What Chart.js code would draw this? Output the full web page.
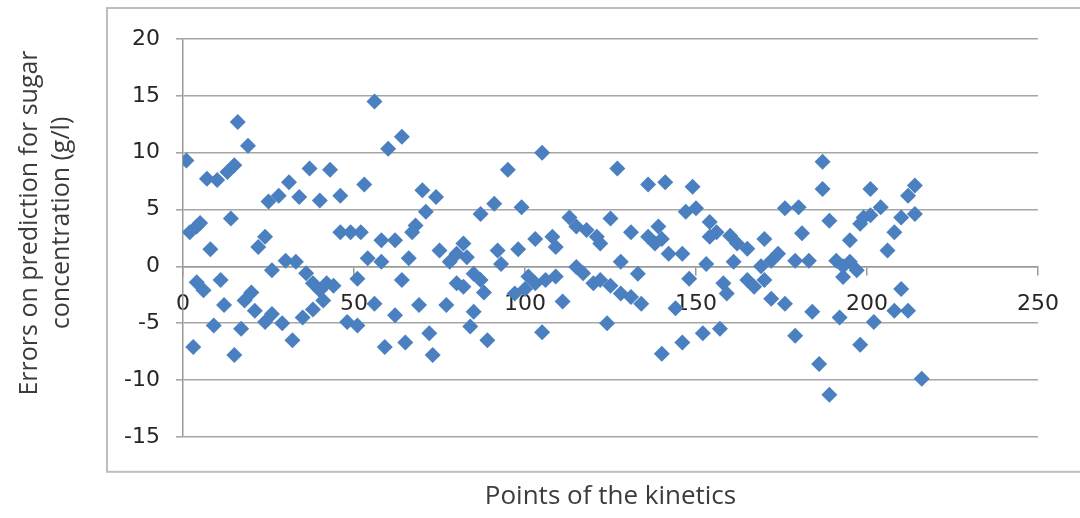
<!DOCTYPE html>
<html>
<head>
<meta charset="utf-8">
<script src="https://cdn.jsdelivr.net/npm/chart.js@4.4.1/dist/chart.umd.min.js"></script>
<style>
  html, body { margin: 0; padding: 0; background: #fff; }
  #wrap { width: 1080px; height: 518px; position: relative; }
</style>
</head>
<body>
<div id="wrap"><canvas id="errors-chart"></canvas></div>
<script>
// points of the kinetics (x) and prediction errors in g/l (y)
const kineticsPoint = [
  1, 2, 3, 4, 4, 5, 6, 7, 8, 9,
  10, 11, 12, 13, 14, 15, 15, 16, 17, 18,
  19, 20, 21, 22, 24, 24, 25, 26, 26, 28,
  29, 30, 31, 32, 33, 34, 35, 36, 37, 38,
  38, 40, 40, 41, 42, 43, 44, 46, 46, 48,
  49, 51, 51, 52, 53, 54, 56, 56, 58, 58,
  59, 60, 62, 62, 64, 64, 65, 66, 67, 68,
  69, 70, 71, 72, 73, 74, 75, 77, 78, 80,
  80, 82, 82, 83, 84, 85, 85, 87, 87, 88,
  89, 91, 92, 93, 95, 97, 98, 99, 100, 101,
  103, 103, 105, 105, 106, 108, 109, 109, 111, 113,
  115, 115, 117, 118, 120, 121, 122, 122, 124, 125,
  125, 127, 128, 128, 131, 131, 133, 134, 136, 136,
  138, 139, 140, 140, 141, 142, 144, 146, 146, 147,
  148, 149, 150, 152, 153, 154, 154, 156, 157, 158,
  159, 160, 161, 162, 165, 165, 167, 169, 170, 170,
  172, 172, 174, 176, 176, 179, 179, 180, 181, 183,
  184, 186, 187, 187, 189, 189, 191, 192, 193, 193,
  195, 195, 197, 198, 198, 199, 201, 201, 202, 204,
  206, 208, 208, 210, 210, 212, 212, 214, 214, 216
];
const predictionError = [
  9.3, 3.0, -7.1, 3.5, -1.4, 3.8, -2.1, 7.7, 1.5, -5.2,
  7.6, -1.2, -3.4, 8.3, 4.2, 8.9, -7.8, 12.7, -5.5, -3.0,
  10.6, -2.3, -3.9, 1.7, -4.9, 2.6, 5.7, -0.35, -4.2, 6.2,
  -5.0, 0.5, 7.4, -6.5, 0.4, 6.1, -4.5, -0.6, 8.6, -1.5,
  -3.8, 5.8, -2.1, -3.0, -1.5, 8.5, -1.7, 6.2, 3.0, -4.9,
  3.0, -5.2, -1.1, 3.0, 7.2, 0.7, -3.3, 14.5, 2.3, 0.4,
  -7.1, 10.35, 2.3, -4.3, -1.2, 11.4, -6.7, 0.7, 3.0, 3.6,
  -3.4, 6.7, 4.8, -5.9, -7.8, 6.1, 1.4, -3.4, 0.4, 1.1,
  -1.5, 2.0, -1.8, 0.8, -5.3, -0.65, -4.0, 4.6, -1.2, -2.3,
  -6.5, 5.5, 1.4, 0.2, 8.5, -2.4, 1.5, 5.2, -2.0, -0.9,
  2.4, -1.5, 10.0, -5.8, -1.2, 2.6, 1.7, -0.9, -3.1, 4.3,
  3.5, -0.05, -0.6, 3.2, -1.5, 2.6, 2.0, -1.2, -5.0, 4.2,
  -1.7, 8.6, 0.4, -2.4, 3.0, -2.7, -0.65, -3.3, 2.6, 7.2,
  2.0, 3.5, 2.4, -7.7, 7.4, 1.1, -3.7, 1.1, -6.7, 4.8,
  -1.1, 7.0, 5.1, -5.9, 0.2, 2.6, 3.9, 3.0, -5.5, -1.5,
  -2.4, 2.7, 0.4, 2.0, -1.2, 1.55, -1.8, 0, 2.4, -1.2,
  0.5, -2.85, 1.1, 5.1, -3.3, 0.5, -6.1, 5.2, 2.9, 0.5,
  -4.0, -8.6, 9.2, 6.8, -11.3, 4.0, 0.5, -4.5, -0.95, 0,
  0.4, 2.3, -0.35, -6.9, 3.75, 4.3, 6.8, 4.5, -4.9, 5.2,
  1.4, 3.0, -3.9, -2.0, 4.3, 6.2, -3.9, 4.6, 7.1, -9.9
];

const xTicks = [0, 50, 100, 150, 200, 250];
const yTicks = [-15, -10, -5, 0, 5, 10, 15, 20];
const xTitle = "Points of the kinetics";
const yTitle = ["Errors on prediction for sugar", "concentration (g/l)"];

const TICK_FONT = "'DejaVu Sans', 'Open Sans', sans-serif";
const TITLE_FONT = "'Open Sans', Lato, 'Liberation Sans', sans-serif";
const TEXT = "#262626";
const TITLE_TEXT = "#3c3c3c";
const GRID = "#a6a6a6";

// grey frame around the plot, like the excel chart border
const frameBox = {
  id: "frameBox",
  beforeDraw(chart) {
    const { ctx, chartArea } = chart;
    ctx.save();
    ctx.strokeStyle = "#bdbdbd";
    ctx.lineWidth = 2;
    ctx.strokeRect(chartArea.left - 76, chartArea.top - 31, chart.width, chartArea.bottom - chartArea.top + 66);
    ctx.restore();
  }
};

// y title drawn by hand: excel centres it a bit higher than the plot centre
const yAxisTitle = {
  id: "yAxisTitle",
  afterDraw(chart) {
    const { ctx, chartArea } = chart;
    ctx.save();
    ctx.fillStyle = TITLE_TEXT;
    ctx.font = "25px " + TITLE_FONT;
    ctx.textAlign = "center";
    ctx.textBaseline = "middle";
    yTitle.forEach((line, i) => {
      ctx.save();
      ctx.translate(30 + i * 32, chartArea.top + 184);
      ctx.rotate(-Math.PI / 2);
      ctx.fillText(line, 0, 0);
      ctx.restore();
    });
    ctx.restore();
  }
};

const points = kineticsPoint.map((x, i) => ({ x, y: predictionError[i] }));

new Chart(document.getElementById("errors-chart"), {
  type: "scatter",
  data: {
    datasets: [{
      label: "Errors",
      data: points,
      pointStyle: "rectRot",
      pointRadius: 8,
      pointBorderWidth: 0,
      backgroundColor: "#4a7fc0",
      borderColor: "#4a7fc0"
    }]
  },
  options: {
    responsive: true,
    maintainAspectRatio: false,
    animation: false,
    devicePixelRatio: 1,
    layout: { padding: { top: 39, right: 42, bottom: 0, left: 0 } },
    plugins: {
      legend: { display: false },
      tooltip: { enabled: false },
      title: {
        display: true,
        position: "bottom",
        fullSize: false,
        text: xTitle,
        color: TITLE_TEXT,
        font: { family: TITLE_FONT, size: 26, weight: "normal", lineHeight: 1.2 },
        padding: { top: 44, bottom: 6 }
      }
    },
    scales: {
      x: {
        type: "linear",
        position: { y: 0 },
        min: xTicks[0],
        max: xTicks[xTicks.length - 1],
        ticks: { stepSize: 50, padding: 17, color: TEXT, font: { family: TICK_FONT, size: 22 }, maxRotation: 0 },
        grid: { drawOnChartArea: false, drawTicks: true, tickLength: 8, color: "#999999", lineWidth: 1.5 },
        border: { display: true, color: "#999999", width: 1.5 }
      },
      y: {
        min: yTicks[0],
        max: yTicks[yTicks.length - 1],
        ticks: { stepSize: 5, padding: 16, color: TEXT, font: { family: TICK_FONT, size: 22 } },
        grid: { color: GRID, lineWidth: 1.6, tickLength: 7 },
        border: { display: true, color: "#999999", width: 1.5 },
        afterFit: s => { s.width = 183; }
      }
    }
  },
  plugins: [frameBox, yAxisTitle]
});
</script>
</body>
</html>
